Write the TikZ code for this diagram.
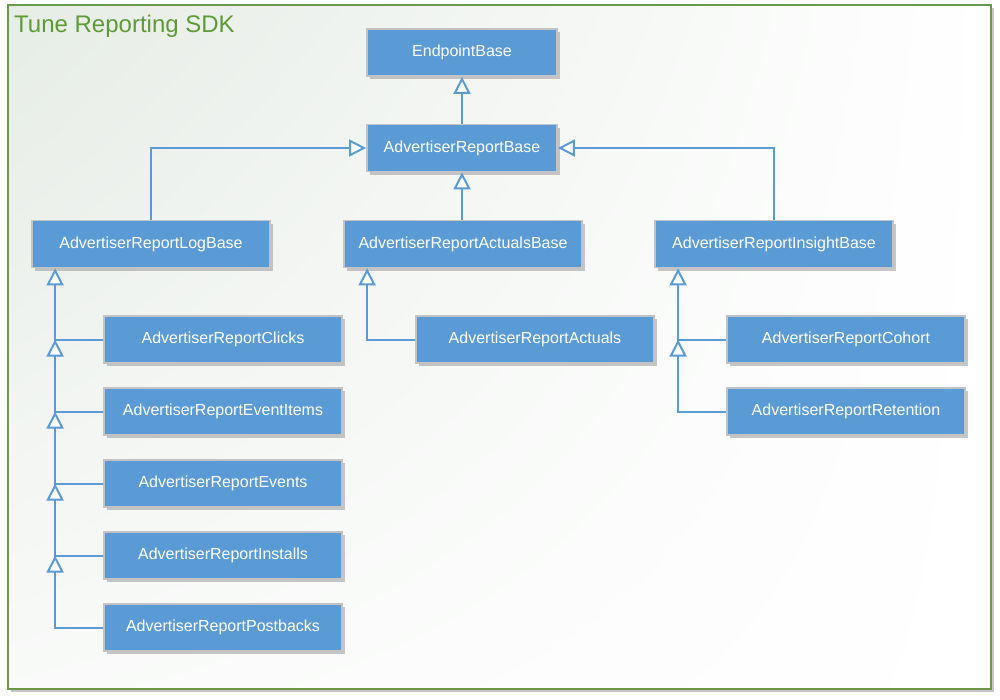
\documentclass[tikz,border=0pt]{standalone}
\usepackage{fontspec}
\setmainfont{Liberation Sans}
\usetikzlibrary{arrows.meta,shadows,shadings,calc}
\definecolor{nodeblue}{HTML}{5B9BD5}
\definecolor{nodeborder}{HTML}{C3C3C3}
\definecolor{framegreen}{HTML}{6A9A47}
\definecolor{titlegreen}{HTML}{5E9A36}
\definecolor{bgleft}{HTML}{E6ECE6}
\tikzset{
  cls/.style={rectangle, fill=nodeblue, draw=nodeborder, line width=1.8pt,
    minimum width=238pt, minimum height=47pt, inner sep=0pt, text=white,
    font=\fontsize{16}{19}\selectfont,
    drop shadow={shadow xshift=3pt, shadow yshift=-3pt, fill=black!40, opacity=.55}},
  small/.style={minimum width=190pt},
  conn/.style={draw=nodeblue, line width=2pt,
    -{Triangle[length=17pt,width=17pt,fill=white,line width=2pt]}},
}
\begin{document}
\begin{tikzpicture}[x=1pt,y=-1pt]
\useasboundingbox (0,0) rectangle (1000,699);
% frame
\fill[black!22] (11,8) rectangle (994,692);
\shade[upper left=bgleft, upper right=white, lower left=white!75!bgleft, lower right=white] (8,5) rectangle (991,689);
\draw[framegreen, line width=2pt] (8,5) rectangle (991,689);
\node[anchor=base west, inner sep=0pt, text=titlegreen, font=\fontsize{24}{28}\selectfont] (title) at (14,32) {Tune Reporting SDK};
% nodes
\node[cls,small] (eb) at (462,52.5) {EndpointBase};
\node[cls,small] (arb) at (462,148) {AdvertiserReportBase};
\node[cls] (logb) at (151,244) {AdvertiserReportLogBase};
\node[cls] (actb) at (463,244) {AdvertiserReportActualsBase};
\node[cls] (insb) at (774,244) {AdvertiserReportInsightBase};
\node[cls] (clk) at (223,339.5) {AdvertiserReportClicks};
\node[cls] (evi) at (223,411.5) {AdvertiserReportEventItems};
\node[cls] (evt) at (223,483.5) {AdvertiserReportEvents};
\node[cls] (ins) at (223,555.5) {AdvertiserReportInstalls};
\node[cls] (pbk) at (223,627.5) {AdvertiserReportPostbacks};
\node[cls] (act) at (535,339.5) {AdvertiserReportActuals};
\node[cls] (coh) at (846,339.5) {AdvertiserReportCohort};
\node[cls] (ret) at (846,411.5) {AdvertiserReportRetention};
% upper connectors
\draw[conn] (arb.north) -- (eb.south);
\draw[conn] (actb.north -| arb.south) -- (arb.south);
\draw[conn] (logb.north) |- (arb.west);
\draw[conn] (insb.north) |- (arb.east);
% left trunk
\coordinate (tL) at ($(logb.south west)+(24,0)$);
\coordinate (jL1) at (clk.west -| tL);
\coordinate (jL2) at (evi.west -| tL);
\coordinate (jL3) at (evt.west -| tL);
\coordinate (jL4) at (ins.west -| tL);
\draw[conn] (clk.west) -| (tL);
\draw[conn] (evi.west) -| (jL1);
\draw[conn] (evt.west) -| (jL2);
\draw[conn] (ins.west) -| (jL3);
\draw[conn] (pbk.west) -| (jL4);
% actuals
\coordinate (tA) at ($(actb.south west)+(24,0)$);
\draw[conn] (act.west) -| (tA);
% insight
\coordinate (tI) at ($(insb.south west)+(24,0)$);
\coordinate (jI1) at (coh.west -| tI);
\draw[conn] (coh.west) -| (tI);
\draw[conn] (ret.west) -| (jI1);
\end{tikzpicture}
\end{document}
